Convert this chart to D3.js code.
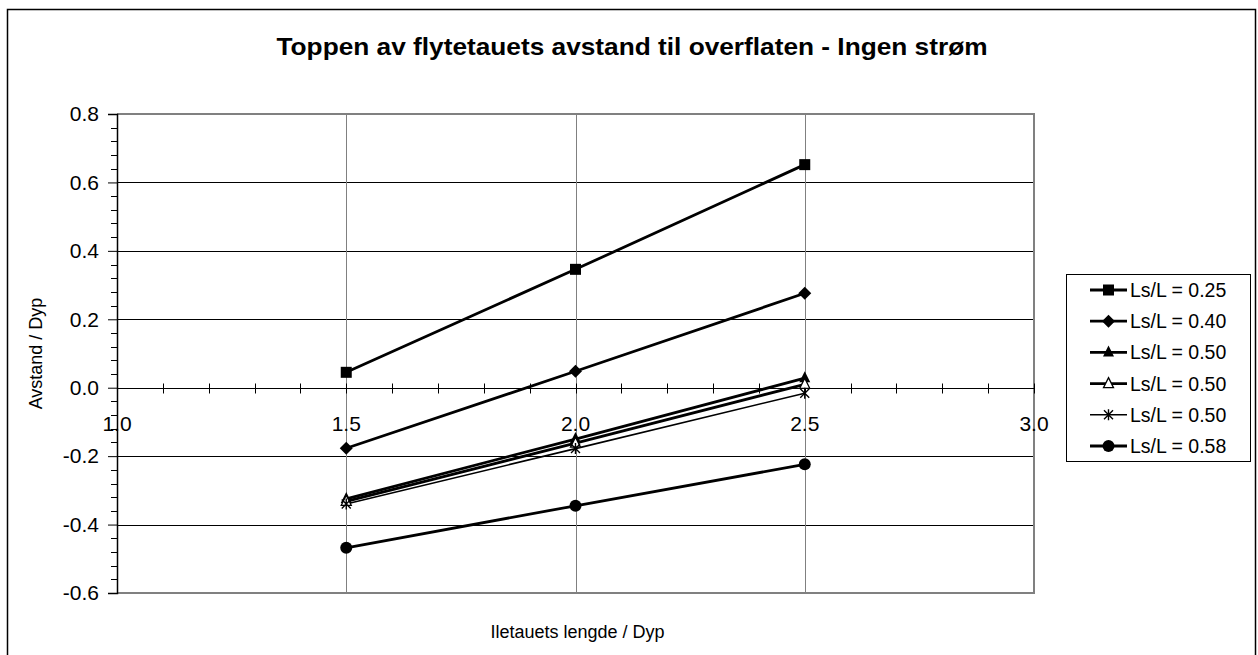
<!DOCTYPE html>
<html>
<head>
<meta charset="utf-8">
<script src="https://cdn.jsdelivr.net/npm/d3@7"></script>
<style>
  html, body { margin: 0; padding: 0; background: #fff; }
  svg { display: block; }
  text { font-family: Arial, "Liberation Sans", sans-serif; fill: #000; }
</style>
</head>
<body>
<svg id="chart" width="1258" height="655"></svg>
<script>
// Horizontal positions (Iletauets lengde / Dyp)
const xValues = [1.5, 2.0, 2.5];

// One row of values per curve
const seriesNames = ["Ls/L = 0.25", "Ls/L = 0.40", "Ls/L = 0.50", "Ls/L = 0.50", "Ls/L = 0.50", "Ls/L = 0.58"];
const s025 = [0.045, 0.346, 0.652];
const s040 = [-0.177, 0.048, 0.276];
const s050a = [-0.325, -0.150, 0.028];
const s050b = [-0.332, -0.162, 0.010];
const s050c = [-0.340, -0.178, -0.016];
const s058 = [-0.468, -0.345, -0.224];
const seriesValues = [s025, s040, s050a, s050b, s050c, s058];
const markerKinds = ["square", "diamond", "triangle", "openTriangle", "star", "circle"];

const xTickLabels = ["1.0", "1.5", "2.0", "2.5", "3.0"];
const yTickLabels = ["-0.6", "-0.4", "-0.2", "0.0", "0.2", "0.4", "0.6", "0.8"];

const titleText = "Toppen av flytetauets avstand til overflaten - Ingen strøm";
const xTitle = "Iletauets lengde / Dyp";
const yTitle = "Avstand / Dyp";

const svg = d3.select("#chart");

// Outer chart frame
svg.append("rect")
  .attr("x", 7.5).attr("y", 9.5).attr("width", 1248).attr("height", 660)
  .attr("fill", "#fff").attr("stroke", "#000").attr("stroke-width", 1.5);

const plot = { left: 117, right: 1034, top: 114, bottom: 593 };
const x = d3.scaleLinear().domain([1.0, 3.0]).range([plot.left, plot.right]);
const y = d3.scaleLinear().domain([-0.6, 0.8]).range([plot.bottom, plot.top]);

// Title
svg.append("text")
  .attr("x", 632).attr("y", 55)
  .attr("text-anchor", "middle")
  .attr("textLength", 711).attr("lengthAdjust", "spacingAndGlyphs")
  .style("font-size", "24px").style("font-weight", "bold")
  .text(titleText);

// Horizontal grid lines
const yMajor = yTickLabels.map(Number);
svg.append("g").selectAll("line")
  .data(yMajor.filter(v => v > -0.6 && v < 0.8 && v !== 0))
  .join("line")
  .attr("x1", plot.left).attr("x2", plot.right)
  .attr("y1", d => Math.round(y(d)) + 0.5).attr("y2", d => Math.round(y(d)) + 0.5)
  .attr("stroke", "#000").attr("stroke-width", 1);

// Vertical grid lines
const xMajor = xTickLabels.map(Number);
svg.append("g").selectAll("line")
  .data(xMajor.filter(v => v > 1.0 && v < 3.0))
  .join("line")
  .attr("x1", d => Math.round(x(d)) + 0.5).attr("x2", d => Math.round(x(d)) + 0.5)
  .attr("y1", plot.top).attr("y2", plot.bottom)
  .attr("stroke", "#808080").attr("stroke-width", 1);

// Plot border (top, right, bottom)
svg.append("path")
  .attr("d", `M${plot.left},${plot.top}H${plot.right}V${plot.bottom}H${plot.left}`)
  .attr("fill", "none").attr("stroke", "#808080").attr("stroke-width", 2);

// Y axis with major and minor ticks
const yAxis = d3.axisLeft(y).tickValues(yMajor).tickSize(9).tickPadding(9)
  .tickFormat((d, i) => yTickLabels[i]);
const gy = svg.append("g").attr("transform", `translate(${plot.left},0)`).call(yAxis);
gy.select(".domain").attr("stroke", "#000").attr("stroke-width", 1.5);
gy.selectAll(".tick line").attr("stroke", "#000");
gy.selectAll(".tick text").style("font-size", "21px").attr("font-family", null);
const yMinor = d3.range(-0.6, 0.8001, 0.04).filter(v => !yMajor.some(m => Math.abs(m - v) < 1e-6));
svg.append("g").selectAll("line").data(yMinor).join("line")
  .attr("x1", plot.left - 6).attr("x2", plot.left)
  .attr("y1", d => Math.round(y(d)) + 0.5).attr("y2", d => Math.round(y(d)) + 0.5)
  .attr("stroke", "#000");

// X axis on the zero line, ticks crossing it
const y0 = Math.round(y(0)) + 0.5;
svg.append("line")
  .attr("x1", plot.left).attr("x2", plot.right)
  .attr("y1", y0).attr("y2", y0)
  .attr("stroke", "#000").attr("stroke-width", 1.2);
const xMinor = d3.range(1.0, 3.0001, 0.1).filter(v => v > 1.0001);
svg.append("g").selectAll("line").data(xMinor).join("line")
  .attr("x1", d => Math.round(x(d)) + 0.5).attr("x2", d => Math.round(x(d)) + 0.5)
  .attr("y1", y0 - 5).attr("y2", y0 + 5)
  .attr("stroke", "#000");
svg.append("g").selectAll("text").data(xMajor).join("text")
  .attr("x", d => x(d)).attr("y", y0 + 42)
  .attr("text-anchor", "middle")
  .style("font-size", "21px")
  .text((d, i) => xTickLabels[i]);

// Axis titles
svg.append("text")
  .attr("x", (plot.left + plot.right) / 2 + 2).attr("y", 638)
  .attr("text-anchor", "middle").style("font-size", "18px")
  .text(xTitle);
svg.append("text")
  .attr("transform", `translate(42,${(plot.top + plot.bottom) / 2}) rotate(-90)`)
  .attr("text-anchor", "middle").style("font-size", "18px")
  .text(yTitle);

// Marker drawing
function drawMarker(g, kind, cx, cy) {
  if (kind === "square") {
    g.append("rect").attr("x", cx - 5.5).attr("y", cy - 5.5).attr("width", 11).attr("height", 11).attr("fill", "#000");
  } else if (kind === "diamond") {
    g.append("path").attr("d", `M${cx},${cy - 6.5}L${cx + 6.5},${cy}L${cx},${cy + 6.5}L${cx - 6.5},${cy}Z`).attr("fill", "#000");
  } else if (kind === "triangle") {
    g.append("path").attr("d", `M${cx},${cy - 7}L${cx + 5.5},${cy + 4}L${cx - 5.5},${cy + 4}Z`).attr("fill", "#000");
  } else if (kind === "openTriangle") {
    g.append("path").attr("d", `M${cx},${cy - 6}L${cx + 5},${cy + 4}L${cx - 5},${cy + 4}Z`)
      .attr("fill", "#fff").attr("stroke", "#000").attr("stroke-width", 1.3);
  } else if (kind === "star") {
    g.append("path").attr("d",
      `M${cx - 4.5},${cy - 4.5}L${cx + 4.5},${cy + 4.5}M${cx + 4.5},${cy - 4.5}L${cx - 4.5},${cy + 4.5}M${cx},${cy - 5.5}V${cy + 5.5}`)
      .attr("stroke", "#000").attr("stroke-width", 1.4).attr("fill", "none");
  } else if (kind === "circle") {
    g.append("circle").attr("cx", cx).attr("cy", cy).attr("r", 6).attr("fill", "#000");
  }
}

const lineWidths = [2.8, 2.8, 2.8, 2.8, 1.6, 2.8];
const line = d3.line().x((d, i) => x(xValues[i])).y(d => y(d));
const series = svg.append("g");
seriesValues.forEach((vals, k) => {
  series.append("path").datum(vals)
    .attr("d", line)
    .attr("fill", "none").attr("stroke", "#000").attr("stroke-width", lineWidths[k]);
});
seriesValues.forEach((vals, k) => {
  const g = series.append("g");
  vals.forEach((v, i) => drawMarker(g, markerKinds[k], x(xValues[i]), y(v)));
});

// Legend
const lg = svg.append("g");
lg.append("rect").attr("x", 1066.5).attr("y", 274.5).attr("width", 184).attr("height", 187)
  .attr("fill", "#fff").attr("stroke", "#000").attr("stroke-width", 1);
seriesNames.forEach((name, k) => {
  const ly = 290 + k * 31.2;
  lg.append("line").attr("x1", 1090).attr("x2", 1127).attr("y1", ly).attr("y2", ly)
    .attr("stroke", "#000").attr("stroke-width", lineWidths[k]);
  drawMarker(lg, markerKinds[k], 1108.5, ly);
  lg.append("text").attr("x", 1130).attr("y", ly + 7)
    .style("font-size", "19.5px").text(name);
});
</script>
</body>
</html>
